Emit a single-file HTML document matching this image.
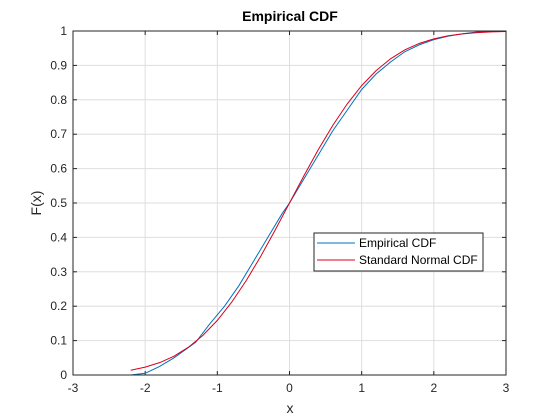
<!DOCTYPE html>
<html><head><meta charset="utf-8"><style>
body{margin:0;background:#fff;}
svg{display:block;font-family:"Liberation Sans",Arial,sans-serif;}
</style></head><body>
<svg id="chart" width="560" height="420" xmlns="http://www.w3.org/2000/svg">
<rect width="560" height="420" fill="#fff"/>
<rect x="73" y="31" width="433" height="344" fill="#fff"/>
<g id="grid"></g>
<g id="ticks"></g>
<g id="series"></g>
<rect x="73" y="31" width="433" height="344" fill="none" stroke="#262626" stroke-width="1"/>
<text x="290" y="21" text-anchor="middle" font-size="14" font-weight="bold" fill="#000">Empirical CDF</text>
<text x="290" y="413" text-anchor="middle" font-size="14" fill="#262626">x</text>
<text transform="translate(41,203) rotate(-90)" text-anchor="middle" font-size="14" fill="#262626">F(x)</text>
<g>
<rect x="314" y="233" width="169" height="38" fill="#fff" stroke="#262626" stroke-width="1"/>
<line x1="317" y1="243" x2="355" y2="243" stroke="#0072bd" stroke-width="1"/>
<text x="359" y="247" font-size="12" fill="#000">Empirical CDF</text>
<line x1="317" y1="260" x2="355" y2="260" stroke="#d9001b" stroke-width="1"/>
<text x="359" y="264" font-size="12" fill="#000">Standard Normal CDF</text>
</g>
</svg>
<script>
const xTicks=[-3,-2,-1,0,1,2,3];
const yTicks=[0,0.1,0.2,0.3,0.4,0.5,0.6,0.7,0.8,0.9,1];
const yTickLabels=["0","0.1","0.2","0.3","0.4","0.5","0.6","0.7","0.8","0.9","1"];
const empX=[-2.2,-2.0,-1.8,-1.6,-1.4,-1.3,-1.1,-0.9,-0.7,-0.5,-0.3,-0.1,0.0,0.2,0.4,0.6,0.8,1.0,1.2,1.4,1.6,1.8,2.0,2.2,2.4,2.6,2.8,3.0];
const empY=[0.0,0.005,0.025,0.05,0.08,0.095,0.15,0.2,0.26,0.33,0.4,0.47,0.5,0.57,0.64,0.71,0.77,0.83,0.875,0.91,0.94,0.96,0.975,0.985,0.992,0.997,0.999,1.0];
const normX=[-2.2,-2.0,-1.8,-1.6,-1.4,-1.2,-1.0,-0.8,-0.6,-0.4,-0.2,0.0,0.2,0.4,0.6,0.8,1.0,1.2,1.4,1.6,1.8,2.0,2.2,2.4,2.6,2.8,3.0];
const normY=[0.0139,0.0228,0.0359,0.0548,0.0808,0.1151,0.1587,0.2119,0.2743,0.3446,0.4207,0.5,0.5793,0.6554,0.7257,0.7881,0.8413,0.8849,0.9192,0.9452,0.9641,0.9772,0.9861,0.9918,0.9953,0.9974,0.9987];
const L=73,R=506,T=31,B=375,NS="http://www.w3.org/2000/svg";
const sx=v=>L+(v+3)/6*(R-L), sy=v=>B-v*(B-T);
function mk(tag,attrs,parent){const e=document.createElementNS(NS,tag);for(const k in attrs)e.setAttribute(k,attrs[k]);document.getElementById(parent).appendChild(e);return e;}
xTicks.forEach(t=>{
 const g=mk('line',{x1:sx(t),x2:sx(t),y1:T,y2:B,stroke:'#dedede','stroke-width':1},'grid');
 
 
 const tk=mk('line',{x1:sx(t),x2:sx(t),y1:B,y2:B-4,stroke:'#262626'},'ticks');
 
 
 const tk2=mk('line',{x1:sx(t),x2:sx(t),y1:T,y2:T+4,stroke:'#262626'},'ticks');
 
 
 const lb=mk('text',{x:sx(t),y:B+17,'text-anchor':'middle','font-size':12,fill:'#262626'},'ticks');
 lb.textContent=String(t);
 
 
});
yTicks.forEach((t,i)=>{
 const g=mk('line',{x1:L,x2:R,y1:sy(t),y2:sy(t),stroke:'#dedede','stroke-width':1},'grid');
 
 
 const tk=mk('line',{x1:L,x2:L+4,y1:sy(t),y2:sy(t),stroke:'#262626'},'ticks');
 
 
 const tk2=mk('line',{x1:R,x2:R-4,y1:sy(t),y2:sy(t),stroke:'#262626'},'ticks');
 
 
 const lb=mk('text',{x:L-6,y:sy(t)+4,'text-anchor':'end','font-size':12,fill:'#262626'},'ticks');
 lb.textContent=yTickLabels[i];
 
 
});
const pe=mk('polyline',{points:empX.map((x,i)=>sx(x)+','+sy(empY[i])).join(' '),fill:'none',stroke:'#0072bd','stroke-width':1},'series');


const pn=mk('polyline',{points:normX.map((x,i)=>sx(x)+','+sy(normY[i])).join(' '),fill:'none',stroke:'#d9001b','stroke-width':1},'series');


</script>
</body></html>
